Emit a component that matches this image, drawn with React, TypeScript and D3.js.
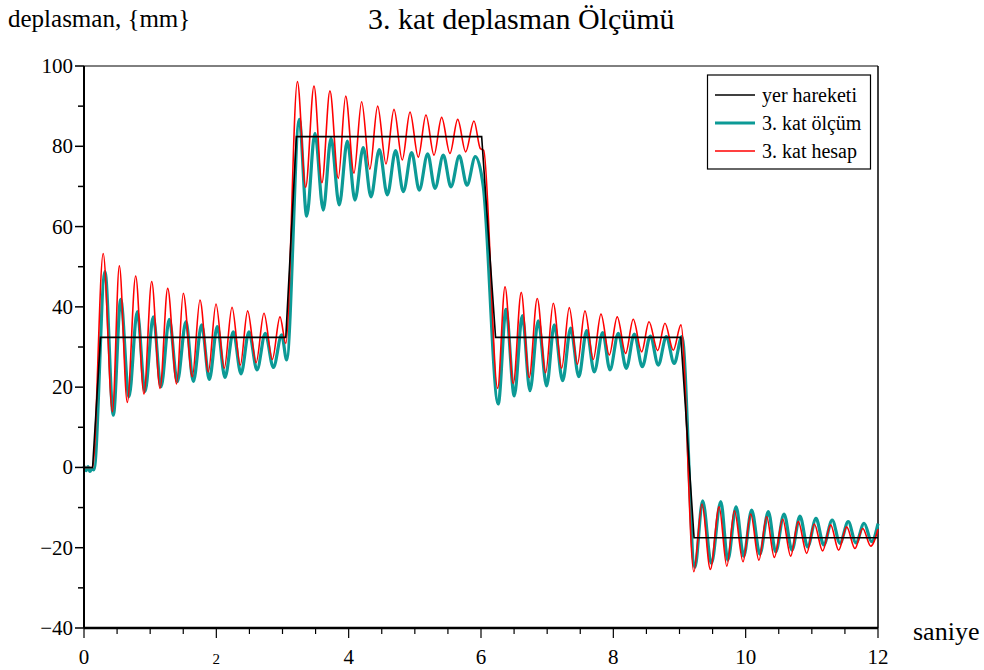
import React from 'react';
import * as d3 from 'd3';

// yer hareketi (ground motion) - step profile
const yerHareketi: [number, number][] = [
  [0, 0], [0.13, 0], [0.25, 32.4], [3.05, 32.4], [3.21, 82.4], [6.01, 82.4],
  [6.22, 32.4], [9.02, 32.4], [9.22, -17.5], [12, -17.5],
];

const katOlcum: [number, number][] = [
  [0, 0.4], [0.03, -0.8], [0.06, 0.2], [0.09, -1.0], [0.12, -0.3], [0.15, -0.6],
  [0.317, 48.8], [0.443, 13.0], [0.555, 41.9], [0.68, 17.6], [0.805, 38.8], [0.922, 18.9],
  [1.047, 37.5], [1.164, 20.1], [1.289, 36.9], [1.41, 21.4], [1.541, 36.3], [1.652, 21.4],
  [1.778, 35.5], [1.894, 21.9], [2.014, 35.1], [2.131, 22.4], [2.256, 33.8], [2.373, 23.3],
  [2.493, 33.8], [2.615, 24.3], [2.74, 33.4], [2.862, 24.9], [2.988, 33.0], [3.063, 26.8],
  [3.254, 86.7], [3.366, 62.6], [3.49, 83.2], [3.616, 64.1], [3.733, 82.0], [3.858, 65.4],
  [3.98, 81.3], [4.095, 66.6], [4.22, 79.7], [4.337, 67.4], [4.463, 79.2], [4.584, 67.9],
  [4.71, 78.9], [4.826, 68.7], [4.952, 78.4], [5.067, 69.1], [5.194, 78.1], [5.305, 69.5],
  [5.43, 77.8], [5.546, 69.9], [5.672, 77.6], [5.788, 70.3], [5.914, 77.4], [6.035, 69.9],
  [6.26, 15.8], [6.378, 39.4], [6.503, 17.8], [6.624, 37.8], [6.74, 19.1], [6.865, 36.5],
  [6.992, 20.3], [7.107, 35.5], [7.234, 21.6], [7.355, 34.7], [7.478, 22.6], [7.597, 34.1],
  [7.712, 23.8], [7.839, 33.6], [7.949, 24.3], [8.075, 33.4], [8.196, 24.7], [8.317, 33.2],
  [8.438, 25.1], [8.559, 32.7], [8.68, 25.5], [8.8, 32.6], [8.92, 25.9], [9.037, 32.6],
  [9.232, -24.9], [9.35, -8.3], [9.481, -23.9], [9.624, -8.5], [9.73, -23.1], [9.855, -9.8],
  [9.97, -22.1], [10.09, -10.6], [10.215, -21.6], [10.342, -11.0], [10.454, -21.0], [10.58, -11.6],
  [10.7, -20.6], [10.82, -12.1], [10.937, -19.8], [11.063, -12.7], [11.18, -19.3], [11.308, -13.1],
  [11.425, -18.9], [11.55, -13.5], [11.667, -18.8], [11.79, -13.9], [11.905, -18.5], [12, -14.0],
];

// 3. kat hesap (computed)
const katHesap: [number, number][] = [
  [0, 0], [0.13, 0], [0.29, 53.3], [0.43, 13.9], [0.534, 50.2], [0.654, 16.2], [0.781, 47.7],
  [0.906, 18.3], [1.023, 46.3], [1.149, 19.7], [1.265, 44.6], [1.4, 20.8], [1.5, 43.4],
  [1.637, 22.6], [1.753, 41.7], [1.879, 23.8], [1.995, 40.7], [2.12, 24.7], [2.237, 39.9],
  [2.362, 25.5], [2.473, 39.0], [2.601, 26.1], [2.72, 38.4], [2.846, 26.9], [2.962, 37.5],
  [3.05, 30.9], [3.225, 96.1], [3.35, 69.8], [3.476, 95.0], [3.596, 70.9], [3.717, 93.8],
  [3.843, 72.0], [3.955, 92.5], [4.08, 73.3], [4.196, 91.1], [4.32, 74.3], [4.438, 90.0],
  [4.564, 75.6], [4.685, 89.2], [4.81, 76.6], [4.927, 88.5], [5.052, 77.3], [5.168, 87.8],
  [5.29, 77.8], [5.405, 87.2], [5.531, 78.2], [5.648, 86.7], [5.768, 78.6], [5.894, 86.3],
  [5.99, 79.4], [6.04, 79.0], [6.252, 19.7], [6.363, 45.0], [6.488, 20.9], [6.608, 43.6],
  [6.728, 22.4], [6.85, 42.1], [6.977, 23.6], [7.092, 40.9], [7.219, 24.7], [7.334, 39.8],
  [7.457, 25.7], [7.571, 39.0], [7.697, 26.9], [7.813, 38.2], [7.939, 28.0], [8.059, 37.5],
  [8.186, 28.4], [8.301, 36.9], [8.428, 28.8], [8.539, 36.3], [8.67, 29.1], [8.78, 35.9],
  [8.906, 29.2], [9.022, 35.5], [9.217, -26.0], [9.34, -9.1], [9.466, -25.4], [9.599, -9.8],
  [9.715, -24.6], [9.83, -10.8], [9.96, -23.5], [10.076, -11.6], [10.2, -23.1], [10.317, -12.3],
  [10.433, -22.4], [10.56, -12.9], [10.68, -22.1], [10.795, -13.5], [10.922, -21.4], [11.037, -14.1],
  [11.163, -20.8], [11.284, -14.3], [11.405, -20.6], [11.526, -14.8], [11.652, -20.2], [11.769, -15.2],
  [11.89, -19.6], [12, -15.4],
];

const yTickLabels = [100, 80, 60, 40, 20, 0, -20, -40];
const xTickLabels = [0, 2, 4, 6, 8, 10, 12];
const legendLabels = ['yer hareketi', '3. kat ölçüm', '3. kat hesap'];

const font = '"Liberation Serif", "Times New Roman", serif';

export default function App() {
  const width = 984;
  const height = 670;
  const x = d3.scaleLinear().domain([0, 12]).range([84, 878]);
  const y = d3.scaleLinear().domain([-40, 100]).range([628, 66]);

  const smooth = d3.line<[number, number]>()
    .x(d => x(d[0]))
    .y(d => y(d[1]))
    .curve(d3.curveMonotoneX);
  const straight = d3.line<[number, number]>()
    .x(d => x(d[0]))
    .y(d => y(d[1]));

  const colors = ['#000000', '#0c9a96', '#ff0000'];
  const widths = [1.6, 3.2, 1.6];

  const xMinor = d3.range(0, 12.01, 0.5);
  const yMinor = d3.range(-40, 100.1, 10);

  return (
    <svg width={width} height={height} style={{ position: 'absolute', left: 0, top: 0, background: '#fff' }}>
      <rect x={0} y={0} width={width} height={height} fill="#fff" />
      <text x={8} y={27} fontFamily={font} fontSize={25}>deplasman, {'{mm}'}</text>
      <text x={368} y={29} fontFamily={font} fontSize={30}>3. kat deplasman Ölçümü</text>

      {/* frame */}
      <line x1={x(0)} x2={x(12)} y1={y(100)} y2={y(100)} stroke="#000" strokeWidth={1} />
      <line x1={x(12)} x2={x(12)} y1={y(100)} y2={y(-40)} stroke="#000" strokeWidth={1.5} />

      {/* series */}
      <path d={smooth(katOlcum) || ''} fill="none" stroke={colors[1]} strokeWidth={widths[1]} strokeLinejoin="round" />
      <path d={smooth(katHesap) || ''} fill="none" stroke={colors[2]} strokeWidth={widths[2]} strokeLinejoin="round" />
      <path d={straight(yerHareketi) || ''} fill="none" stroke={colors[0]} strokeWidth={widths[0]} />

      {/* y axis */}
      <line x1={x(0)} x2={x(0)} y1={y(100)} y2={y(-40)} stroke="#000" strokeWidth={2} />
      {yMinor.map(v => (
        <line key={'ym' + v} x1={x(0) - (v % 20 === 0 ? 9 : 6)} x2={x(0)} y1={y(v)} y2={y(v)} stroke="#000" strokeWidth={1.5} />
      ))}
      {yTickLabels.map(v => (
        <text key={'yl' + v} x={x(0) - 11} y={y(v) + 7} textAnchor="end" fontFamily={font} fontSize={21}>
          {v < 0 ? '\u2212' + Math.abs(v) : v}
        </text>
      ))}

      {/* x axis */}
      <line x1={x(0)} x2={x(12)} y1={y(-40)} y2={y(-40)} stroke="#000" strokeWidth={2.5} />
      {xMinor.map(t => (
        <line key={'xm' + t} x1={x(t)} x2={x(t)} y1={y(-40)} y2={y(-40) + (t % 2 === 0 ? 10 : 6)} stroke="#000" strokeWidth={1.2} />
      ))}
      {xTickLabels.map(t => (
        <text key={'xl' + t} x={x(t)} y={664} textAnchor="middle" fontFamily={font} fontSize={t === 2 ? 15 : 21}>{t}</text>
      ))}
      <text x={913} y={640} fontFamily={font} fontSize={26}>saniye</text>

      {/* legend */}
      <rect x={707.5} y={75} width={163} height={94} fill="#fff" stroke="#000" strokeWidth={1.2} />
      {legendLabels.map((label, i) => (
        <g key={label}>
          <line x1={715} x2={755} y1={95 + i * 28} y2={95 + i * 28} stroke={colors[i]} strokeWidth={widths[i]} />
          <text x={762} y={102 + i * 28} fontFamily={font} fontSize={20}>{label}</text>
        </g>
      ))}
    </svg>
  );
}
